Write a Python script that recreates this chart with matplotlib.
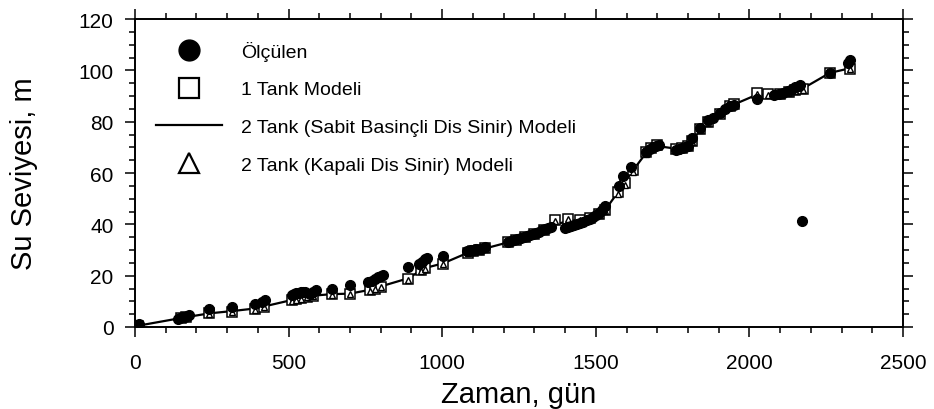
import numpy as np
import matplotlib.pyplot as plt
from matplotlib.lines import Line2D
from matplotlib.ticker import MultipleLocator

plt.rcParams['font.family'] = ['Liberation Sans', 'DejaVu Sans']

# measured water level (day, m)
olcum_gun = [5, 12, 140, 148, 155, 162, 170, 176, 241, 316, 390, 415, 422,
             510, 518, 525, 533, 540, 548, 555, 570, 580, 590, 640, 700,
             760, 770, 780, 790, 800, 808, 890, 925, 935, 945, 951, 1003,
             1080, 1095, 1110, 1125, 1140,
             1215, 1225, 1235, 1245, 1255, 1265, 1275, 1285, 1295, 1305,
             1315, 1325, 1335, 1345, 1355,
             1400, 1410, 1420, 1430, 1440, 1450, 1460, 1470, 1480, 1490,
             1500, 1510, 1520, 1530,
             1575, 1589, 1615, 1665, 1675, 1685, 1695, 1705,
             1760, 1770, 1780, 1790, 1800, 1813, 1840, 1865, 1880, 1904,
             1920, 1937, 1950, 2024,
             2080, 2095, 2110, 2125, 2140, 2150, 2160, 2165, 2170,
             2262, 2322, 2327]
olcum_seviye = [0.8, 1.0, 3.2, 3.5, 3.8, 4.0, 4.3, 4.5, 7.0, 7.8, 8.8, 9.8, 10.5,
                12.5, 13.0, 13.2, 13.4, 13.5, 13.6, 13.5, 13.0, 13.8, 14.5, 15.0, 16.3,
                17.5, 18.0, 18.7, 19.3, 19.8, 20.3, 23.5, 24.5, 25.5, 26.5, 27.0, 27.8,
                29.5, 30.0, 30.3, 30.5, 31.0,
                33.0, 33.5, 34.0, 34.3, 34.7, 35.0, 35.5, 36.0, 36.3, 36.8,
                37.2, 37.6, 38.0, 38.5, 39.0,
                38.5, 38.8, 39.2, 39.6, 40.0, 40.5, 41.0, 41.5, 42.0, 42.7,
                43.5, 44.5, 45.5, 47.0,
                55.0, 59.0, 62.5, 68.0, 69.5, 70.0, 70.5, 71.0,
                69.0, 69.3, 69.6, 70.0, 70.5, 73.5, 77.5, 80.5, 81.5, 83.5,
                85.0, 86.0, 86.5, 89.0,
                90.5, 90.8, 91.3, 92.0, 92.8, 93.5, 94.0, 94.3, 41.3,
                99.0, 103.0, 104.0]

# model output days
model_gun = [10, 150, 165, 241, 316, 390, 420, 510, 525, 540, 560, 580, 640,
             700, 765, 780, 800, 890, 930, 945, 1003, 1085, 1100, 1120, 1140,
             1215, 1240, 1270, 1300, 1330, 1367, 1410, 1450, 1480, 1510, 1530,
             1572, 1595, 1621, 1665, 1680, 1700, 1760, 1780, 1800, 1813, 1840,
             1865, 1904, 1937, 1950, 2024, 2060, 2100, 2130, 2150, 2175, 2262,
             2327]
tank1 = [0.4, 3.5, 3.9, 5.3, 6.0, 7.0, 7.8, 10.4, 10.8, 11.2, 11.8, 12.2, 12.8,
         13.0, 14.6, 15.0, 15.6, 18.8, 22.2, 23.0, 24.7, 29.0, 29.6, 30.1, 30.6,
         33.0, 34.0, 35.0, 36.3, 37.6, 41.5, 42.2, 41.8, 42.5, 44.2, 45.5,
         52.5, 56.0, 61.0, 68.0, 69.8, 70.8, 69.4, 69.8, 70.5, 72.3, 77.0,
         80.0, 83.0, 86.0, 86.8, 91.0, 90.6, 90.6, 91.5, 92.2, 92.8, 99.0,
         100.7]
tank2_sabit = [0.5, 3.5, 3.8, 5.3, 6.2, 7.2, 8.0, 10.5, 10.9, 11.3, 11.8, 12.2, 12.8,
               13.0, 14.5, 15.0, 15.8, 19.0, 22.0, 23.0, 24.8, 29.0, 29.5, 30.0, 30.6,
               33.0, 34.0, 35.0, 36.2, 37.5, 40.0, 41.2, 41.8, 42.5, 44.0, 45.5,
               52.5, 56.5, 61.0, 68.0, 69.8, 70.5, 69.5, 69.8, 70.5, 72.5, 77.0,
               80.0, 83.2, 86.0, 86.7, 90.5, 90.5, 90.8, 91.5, 92.3, 93.0, 99.0,
               100.8]
tank2_kapali = [0.5, 3.4, 3.8, 5.0, 5.8, 6.8, 7.6, 10.2, 10.6, 11.0, 11.5, 12.0, 12.5,
                12.7, 14.2, 14.7, 15.4, 18.5, 21.8, 22.6, 24.4, 28.8, 29.3, 29.8, 30.3,
                32.8, 33.8, 34.8, 36.0, 37.3, 41.2, 41.9, 41.5, 42.2, 43.8, 45.2,
                52.0, 55.5, 60.5, 67.5, 69.5, 70.4, 69.2, 69.5, 70.2, 72.0, 76.6,
                79.6, 82.8, 85.7, 86.5, 90.7, 90.3, 90.4, 91.2, 91.9, 92.5, 98.8,
                100.4]

fig = plt.figure(figsize=(9.34, 4.1), dpi=100)
ax = fig.add_axes([0.1445, 0.20, 0.8223, 0.7512])

ax.plot(model_gun, tank2_sabit, '-', color='black', linewidth=1.6, zorder=2)
ax.plot(model_gun, tank1, 's', markerfacecolor='white', markeredgecolor='black',
        markersize=7, markeredgewidth=1.1, zorder=3)
ax.plot(model_gun, tank2_kapali, '^', markerfacecolor='white', markeredgecolor='black',
        markersize=4.5, markeredgewidth=1.0, zorder=4)
ax.plot(olcum_gun, olcum_seviye, 'o', color='black', markersize=7, zorder=5)

ax.set_xlim(0, 2500)
ax.set_ylim(0, 120)
ax.xaxis.set_major_locator(MultipleLocator(500))
ax.xaxis.set_minor_locator(MultipleLocator(100))
ax.yaxis.set_major_locator(MultipleLocator(20))
ax.yaxis.set_minor_locator(MultipleLocator(5))
ax.tick_params(which='both', direction='out', top=True, right=True,
               width=1.1, labelsize=15, pad=8)
ax.tick_params(axis='x', which='both', pad=11)
ax.tick_params(which='major', length=7.5)
ax.tick_params(which='minor', length=4)
for s in ax.spines.values():
    s.set_linewidth(1.4)

ax.set_xlabel('Zaman, gün', fontsize=21, labelpad=6)
ax.set_ylabel('Su Seviyesi, m', fontsize=21, labelpad=29)

handles = [
    Line2D([], [], linestyle='none', marker='o', color='black', markersize=15),
    Line2D([], [], linestyle='none', marker='s', markerfacecolor='white',
           markeredgecolor='black', markersize=15, markeredgewidth=1.6),
    Line2D([], [], color='black', linewidth=1.6),
    Line2D([], [], linestyle='none', marker='^', markerfacecolor='white',
           markeredgecolor='black', markersize=14, markeredgewidth=1.6),
]
labels = ['Ölçülen', '1 Tank Modeli',
          '2 Tank (Sabit Basinçli Dis Sinir) Modeli',
          '2 Tank (Kapali Dis Sinir) Modeli']
ax.legend(handles, labels, loc='upper left', bbox_to_anchor=(0.0065, 0.98),
          frameon=False, fontsize=14, handlelength=3.4, handletextpad=1.0,
          labelspacing=1.03, borderaxespad=0.4)

fig.savefig('out.png', dpi=100)
